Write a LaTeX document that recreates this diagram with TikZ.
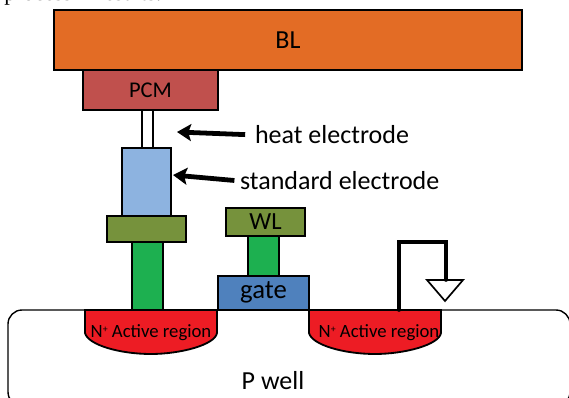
\documentclass[tikz,border=0pt]{standalone}
\usepackage{fontspec}
\setmainfont{Carlito}
\newfontfamily\serifcut{Liberation Serif}
\usetikzlibrary{positioning,arrows.meta}
\definecolor{blcolor}{RGB}{227,108,37}
\definecolor{pcmcolor}{RGB}{192,80,77}
\definecolor{stdcolor}{RGB}{141,179,224}
\definecolor{wlcolor}{RGB}{118,146,60}
\definecolor{viacolor}{RGB}{29,176,80}
\definecolor{gatecolor}{RGB}{79,129,189}
\definecolor{activecolor}{RGB}{237,28,36}
\tikzset{
  layer/.style={draw=black,line width=1.3pt,inner sep=0pt,outer sep=0pt,font=\fontsize{16}{16}\selectfont},
  textlabel/.style={inner sep=0pt,outer sep=0pt,font=\fontsize{18.5}{18}\selectfont},
  regionlabel/.style={inner sep=0pt,outer sep=0pt,font=\fontsize{13.3}{13}\selectfont},
  pointer/.style={line width=3.4pt,-{Stealth[length=10pt,width=12pt,inset=2pt]}},
  wire/.style={line width=2.6pt,line cap=round}
}
\begin{document}
\begin{tikzpicture}[x=0.025cm,y=-0.025cm]
    \useasboundingbox (0,0) rectangle (569,398);
    \begin{scope}
    \clip (0,0) rectangle (569,398);
    % substrate
    \draw[line width=1pt,rounded corners=10pt] (8,310) rectangle (570,406);
    \node[anchor=base west,inner sep=0pt,font=\serifcut\fontsize{16}{16}\selectfont] (caption) at (4,0.8) {process\hspace{18pt}results.};
    \end{scope}
    % cell stack
    \node[layer,fill=blcolor,minimum width=333pt,minimum height=42.5pt,font=\fontsize{18.5}{18}\selectfont] (bl) at (288,40) {BL\hspace{13pt}};
    \node[layer,fill=pcmcolor,minimum width=96pt,minimum height=28.5pt,anchor=north] (pcm) at (150.5,70) {PCM};
    \node[layer,fill=white,minimum width=7.8pt,minimum height=27pt,anchor=north] (heat) at (147.5,110) {};
    \node[layer,fill=stdcolor,minimum width=35pt,minimum height=48.4pt,below=0pt of heat,xshift=-0.7pt] (std) {};
    \node[layer,fill=wlcolor,minimum width=56.2pt,minimum height=18.5pt,below=0pt of std] (pad) {};
    \node[layer,fill=viacolor,minimum width=22pt,minimum height=48.4pt,below=0pt of pad,xshift=0.7pt] (via) {};
    % gate stack
    \node[layer,fill=gatecolor,minimum width=64.7pt,minimum height=24.2pt,font=\fontsize{19}{19}\selectfont,text depth=2.5pt,text height=11pt] (gate) at (263.5,293) {gate\hspace{5pt}};
    \node[layer,fill=viacolor,minimum width=22pt,minimum height=28.4pt,above=0pt of gate] (gatevia) {};
    \node[layer,fill=wlcolor,minimum width=56.2pt,minimum height=20pt,above=0pt of gatevia,xshift=1.4pt,font=\fontsize{17.5}{17}\selectfont] (wl) {WL};
    % active regions
    \draw[layer,fill=activecolor] (85,310) -- (217,310) -- (217,333) .. controls (215,345) and (180,354) .. (151,354) .. controls (120,354) and (88,345) .. (85,333) -- cycle;
    \draw[layer,fill=activecolor] (309,310) -- (441,310) -- (441,333) .. controls (439,345) and (404,354) .. (375,354) .. controls (344,354) and (312,345) .. (309,333) -- cycle;
    \node[regionlabel] (leftregion) at (151,333) {N\raisebox{4pt}{\fontsize{7}{7}\selectfont +} Active region};
    \node[regionlabel] (rightregion) at (379,333) {N\raisebox{4pt}{\fontsize{7}{7}\selectfont +} Active region};
    \node[textlabel] (pwell) at (273,381) {P well};
    % labels and arrows
    \node[textlabel,anchor=west] (heatlabel) at (255,135) {heat electrode};
    \node[textlabel,anchor=west] (stdlabel) at (240,181) {standard electrode};
    \coordinate (heattip) at (177,132);
    \coordinate (stdtip) at (173,175);
    \draw[pointer,shorten <=7pt] (heatlabel.west) -- (heattip);
    \draw[pointer,shorten <=4pt] (stdlabel.west) -- (stdtip);
    % ground
    \coordinate (draintop) at (399,310);
    \coordinate (cornerl) at (399,242);
    \coordinate (cornerr) at (446,242);
    \coordinate (gndtop) at (446,280);
    \draw[wire] (draintop) -- (cornerl) -- (cornerr) -- (gndtop);
    \draw[line width=1.2pt] (427,280) -- (463,280) -- (445,301) -- cycle;
\end{tikzpicture}
\end{document}
